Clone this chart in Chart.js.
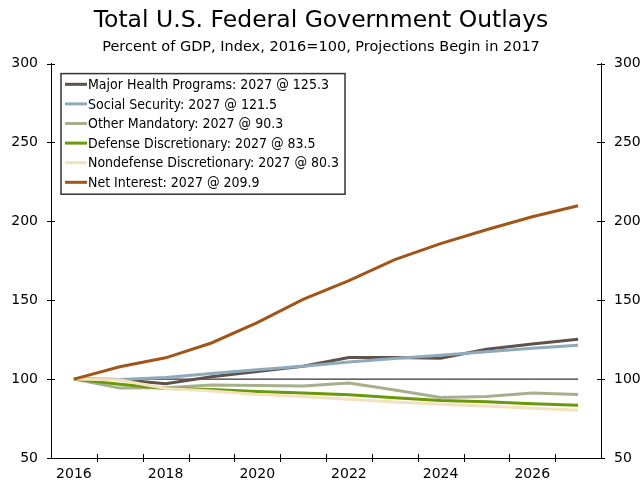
<!DOCTYPE html>
<html lang="en">
<head>
    <meta charset="utf-8">
    <title>Total U.S. Federal Government Outlays</title>
    <script src="https://cdn.jsdelivr.net/npm/chart.js"></script>
    <style>
        html, body { margin: 0; padding: 0; background: #fff; }
        .chart-container { position: relative; width: 642px; height: 484px; }
    </style>
</head>
<body>
    <div class="chart-container">
        <canvas id="outlaysChart"></canvas>
    </div>
    <script>
        // Years on the x axis (2017 onward are projections)
        const years = ['2016', '2017', '2018', '2019', '2020', '2021', '2022', '2023', '2024', '2025', '2026', '2027'];

        // Percent of GDP, index 2016 = 100
        const majorHealth  = [100, 99.8, 97.0, 101.5, 104.8, 108.2, 113.7, 113.7, 113.3, 118.9, 122.3, 125.3];
        const socialSec    = [100, 99.8, 101.1, 103.6, 105.9, 108.2, 110.9, 113.0, 115.1, 117.4, 119.5, 121.5];
        const otherMand    = [100, 94.3, 94.5, 96.2, 96.0, 95.6, 97.5, 93.1, 88.4, 89.0, 91.2, 90.3];
        const defenseDisc  = [100, 96.8, 94.1, 93.5, 92.2, 91.2, 90.1, 88.2, 86.5, 85.7, 84.4, 83.5];
        const nondefDisc   = [100, 99.4, 94.1, 92.4, 90.3, 89.0, 87.2, 85.5, 84.0, 83.0, 81.5, 80.3];
        const netInterest  = [100, 107.8, 113.5, 122.9, 135.8, 150.5, 162.5, 175.8, 185.9, 194.7, 202.9, 209.9];
        const baseline     = [100, 100, 100, 100, 100, 100, 100, 100, 100, 100, 100, 100];

        const seriesNames  = ['Major Health Programs', 'Social Security', 'Other Mandatory', 'Defense Discretionary', 'Nondefense Discretionary', 'Net Interest'];
        const seriesValues = [majorHealth, socialSec, otherMand, defenseDisc, nondefDisc, netInterest];
        const seriesColors = ['#5e524b', '#8fa9bd', '#a7b08d', '#6a9a0a', '#f3e2bd', '#a0561a'];

        const yTicks = [50, 100, 150, 200, 250, 300];

        const FONT = '"DejaVu Sans", Verdana, sans-serif';
        const LEGEND_FONT = '14px "DejaVu Sans Condensed", "DejaVu Sans", sans-serif';

        // legend box drawn inside the plot, top left
        const legendBox = {
            id: 'legendBox',
            afterDatasetsDraw(chart) {
                const { ctx, chartArea } = chart;
                const last = years.length - 1;
                const labels = seriesNames.map((n, i) => n + ': ' + years[last] + ' @ ' + seriesValues[i][last].toFixed(1));
                ctx.save();
                ctx.font = LEGEND_FONT;
                const textW = Math.max(...labels.map(l => ctx.measureText(l).width));
                const x0 = chartArea.left + 10;
                const y0 = chartArea.top + 10;
                const rowH = 19.6;
                const w = 27 + textW + 6;
                const h = rowH * labels.length + 3;
                ctx.fillStyle = '#fff';
                ctx.fillRect(x0, y0, w, h);
                ctx.strokeStyle = '#333';
                ctx.lineWidth = 1.5;
                ctx.strokeRect(x0, y0, w, h);
                labels.forEach((l, i) => {
                    const y = y0 + 10.7 + i * rowH;
                    ctx.strokeStyle = seriesColors[i];
                    ctx.lineWidth = 3;
                    ctx.beginPath();
                    ctx.moveTo(x0 + 4, y);
                    ctx.lineTo(x0 + 26, y);
                    ctx.stroke();
                    ctx.fillStyle = '#000';
                    ctx.textBaseline = 'middle';
                    ctx.fillText(l, x0 + 27, y + 1);
                });
                ctx.restore();
            }
        };

        // tick marks that cross the axis lines
        const crossTicks = {
            id: 'crossTicks',
            afterDraw(chart) {
                const { ctx, chartArea, scales } = chart;
                ctx.save();
                ctx.strokeStyle = '#000';
                ctx.lineWidth = 1;
                ctx.beginPath();
                const n = years.length;
                for (let i = 1; i < n; i++) {
                    const px = Math.round(scales.x.left + i * scales.x.width / n) + 0.5;
                    ctx.moveTo(px, chartArea.bottom - 4);
                    ctx.lineTo(px, chartArea.bottom + 4);
                }
                yTicks.forEach(v => {
                    const py = Math.round(scales.y.getPixelForValue(v)) + 0.5;
                    ctx.moveTo(chartArea.left - 4, py);
                    ctx.lineTo(chartArea.left + 4, py);
                    ctx.moveTo(chartArea.right - 4, py);
                    ctx.lineTo(chartArea.right + 4, py);
                });
                ctx.stroke();
                ctx.restore();
            }
        };

        const datasets = seriesNames.map((name, i) => ({
            label: name,
            data: seriesValues[i],
            borderColor: seriesColors[i],
            borderWidth: 3,
            pointRadius: 0,
            tension: 0,
            order: seriesNames.length - i
        }));
        datasets.push({
            label: 'Index = 100',
            data: baseline,
            borderColor: '#000',
            borderWidth: 1,
            pointRadius: 0,
            order: 20
        });

        const axisFont = { family: FONT, size: 14 };

        new Chart(document.getElementById('outlaysChart'), {
            type: 'line',
            data: { labels: years, datasets: datasets },
            options: {
                responsive: true,
                maintainAspectRatio: false,
                animation: false,
                layout: { padding: { left: 0, right: 0, top: 0, bottom: 0 } },
                plugins: {
                    legend: { display: false },
                    tooltip: { enabled: false },
                    title: {
                        display: true,
                        text: 'Total U.S. Federal Government Outlays',
                        color: '#000',
                        font: { family: FONT, size: 23.5, weight: 'normal' },
                        padding: { top: 7, bottom: 3 }
                    },
                    subtitle: {
                        display: true,
                        text: 'Percent of GDP, Index, 2016=100, Projections Begin in 2017',
                        color: '#000',
                        font: { family: FONT, size: 14.5 },
                        padding: { bottom: 8 }
                    }
                },
                scales: {
                    x: {
                        offset: true,
                        grid: { display: false, offset: true },
                        border: { display: true, color: '#000', width: 1 },
                        ticks: {
                            color: '#000',
                            font: axisFont,
                            autoSkip: false,
                            maxRotation: 0,
                            padding: 0,
                            callback: (v, i) => (i % 2 === 0 ? years[i] : '')
                        },
                        afterFit: s => { s.height = 26; }
                    },
                    y: {
                        position: 'left',
                        min: 50,
                        max: 300,
                        grid: { display: false },
                        border: { display: true, color: '#000', width: 1 },
                        ticks: { color: '#000', font: axisFont, stepSize: 50, padding: 5 },
                        afterFit: s => { s.width = 51; }
                    },
                    y2: {
                        position: 'right',
                        min: 50,
                        max: 300,
                        grid: { display: false },
                        border: { display: true, color: '#000', width: 1 },
                        ticks: { color: '#000', font: axisFont, stepSize: 50, padding: 5 },
                        afterFit: s => { s.width = 41; }
                    }
                }
            },
            plugins: [legendBox, crossTicks]
        });
    </script>
</body>
</html>
